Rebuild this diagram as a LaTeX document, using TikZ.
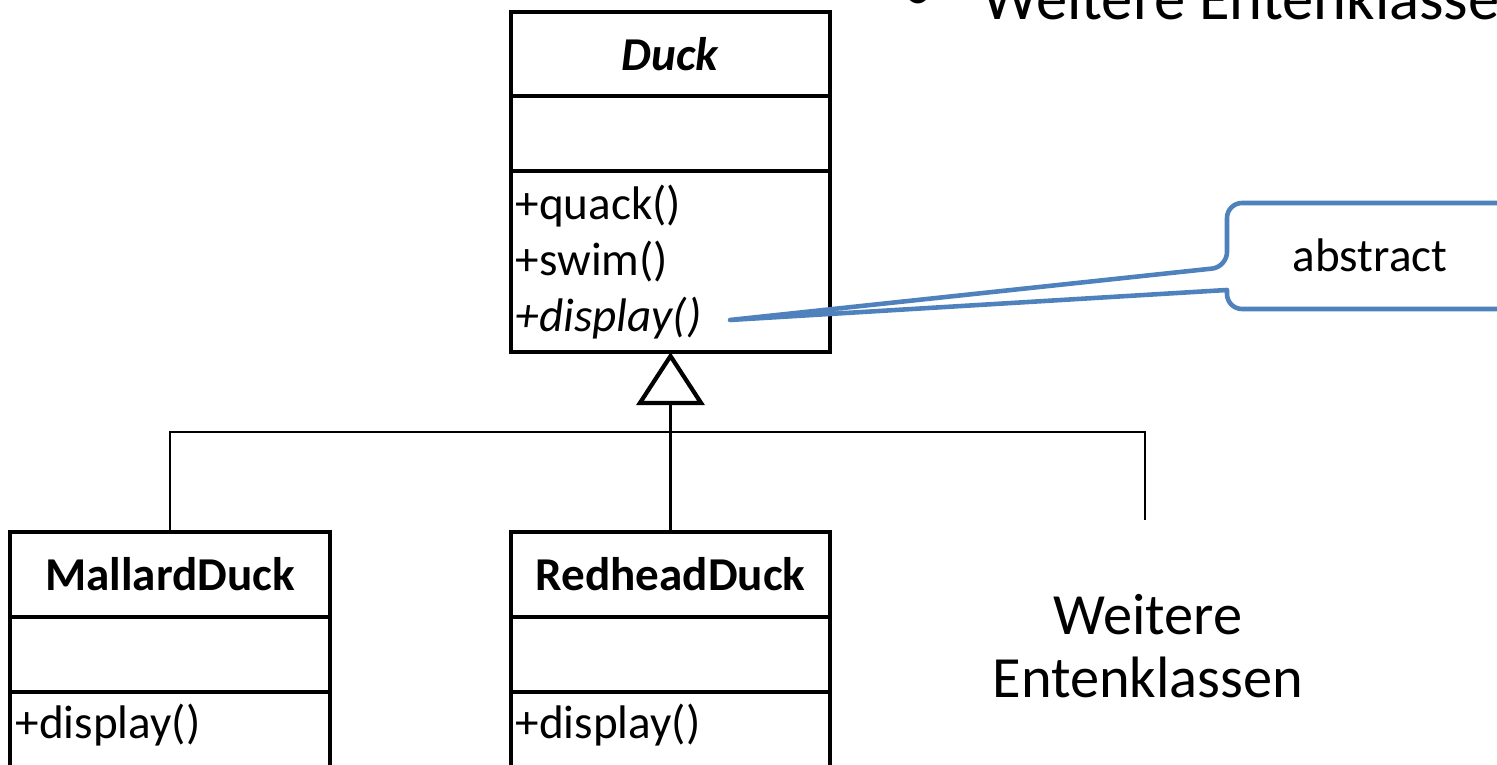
\documentclass[tikz,border=0pt]{standalone}
\usepackage{fontspec}
\setmainfont{Carlito}
\usepackage{xcolor}
\usetikzlibrary{arrows.meta,positioning}

\definecolor{noteblue}{RGB}{79,129,189}

\tikzset{
  classpart/.style={draw, line width=1.1pt, minimum width=3.19cm, inner sep=0pt, outer sep=0pt},
  opline/.style={anchor=base west, inner sep=0pt},
  link/.style={line width=0.7pt},
  generalize/.style={link, -{Triangle[open,length=5.3mm,width=6.8mm,line width=1.2pt]}},
  callout/.style={draw=noteblue, line width=1.3pt, line join=round},
  bigtext/.style={font=\fontsize{16.6}{17.8}\selectfont},
}

\begin{document}
\begin{tikzpicture}[x=0.01cm,y=-0.01cm,font=\fontsize{13.4}{16.2}\selectfont]
\useasboundingbox (0,0) rectangle (1497,765);
\clip (0,0) rectangle (1497,765);
% bullet line at the top (cut off)
\node[anchor=base, inner sep=0pt, font=\fontsize{18}{22}\selectfont] (bullet) at (918,11) {•};
\node[anchor=base west, inner sep=0pt, font=\fontsize{17.8}{22}\selectfont] (heading) at (982,20) {Weitere Entenklassen};
% abstract class
\node[classpart, minimum height=0.84cm] (duckname) at (670.5,54) {\textbf{\textit{Duck}}};
\node[classpart, minimum height=0.75cm, below=0pt of duckname] (duckattr) {};
\node[classpart, minimum height=1.81cm, below=0pt of duckattr] (duckops) {};
\node[opline] (quack) at (515,220) {+quack()};
\node[opline] (swim) at (515,276) {+swim()};
\node[opline] (display) at (515,332) {\textit{+display()}};
% subclasses
\node[classpart, minimum height=0.85cm] (mallardname) at (170,574.5) {\textbf{MallardDuck}};
\node[classpart, minimum height=0.75cm, below=0pt of mallardname] (mallardattr) {};
\node[classpart, minimum height=1.2cm, below=0pt of mallardattr] (mallardops) {};
\node[opline] (mallarddisplay) at (15,739) {+display()};
\node[classpart, minimum height=0.85cm] (redheadname) at (670.5,574.5) {\textbf{RedheadDuck}};
\node[classpart, minimum height=0.75cm, below=0pt of redheadname] (redheadattr) {};
\node[classpart, minimum height=1.2cm, below=0pt of redheadattr] (redheadops) {};
\node[opline] (redheaddisplay) at (515,739) {+display()};
\node[bigtext, align=center, anchor=north, inner sep=0pt] (others) at (1148,594) {Weitere\\Entenklassen};
% inheritance
\coordinate (bus) at (670.5,432);
\coordinate (more) at (1145,520);
\draw[generalize] (redheadname.north) -- (duckops.south);
\draw[link] (mallardname.north) |- (more |- bus) -- (more);
% note
\node[anchor=base, inner sep=0pt] (abstractnote) at (1370,272) {abstract};
\coordinate (tip) at (730,320);
\draw[callout, rounded corners=1.5mm] (1510,203) -- (1227,203) -- (1227,267) [sharp corners] -- (tip) -- (1227,290) [rounded corners=1.5mm] -- (1227,309) -- (1510,309);
\end{tikzpicture}
\end{document}
